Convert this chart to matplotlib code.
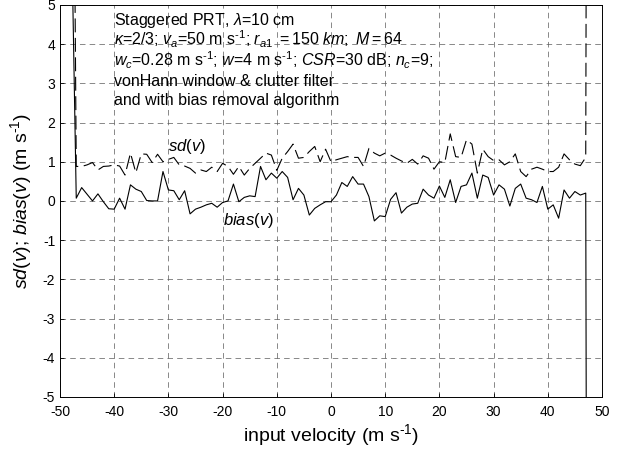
import numpy as np
import matplotlib
matplotlib.use("Agg")
from matplotlib import pyplot as plt

plt.rcParams['font.family'] = ['Liberation Sans', 'DejaVu Sans']
plt.rcParams['mathtext.fontset'] = 'custom'
plt.rcParams['mathtext.rm'] = 'Liberation Sans'
plt.rcParams['mathtext.it'] = 'Liberation Sans:italic'
plt.rcParams['mathtext.bf'] = 'Liberation Sans:bold'
plt.rcParams['lines.scale_dashes'] = False
plt.rcParams['axes.unicode_minus'] = False

# input velocity (m/s), one point per 1 m/s; the end points run off the chart
velocity = np.arange(-48, 49)

bias = [8.0,
        0.07, 0.34, 0.17, 0.0, 0.18, -0.02, -0.2, -0.21, 0.07, -0.21, 0.41, 0.3, 0.24, 0.01, 0.0,
        0.0, 0.75, 0.28, 0.26, 0.03, 0.26, -0.33, -0.21, -0.16, -0.1, -0.06, -0.16, -0.04, 0.0,
        0.43, -0.02, 0.09, 0.13, 0.11, 0.88, 0.54, 0.71, 0.58, 0.75, 0.6, 0.03, 0.32, 0.15,
        -0.36, -0.19, -0.1, -0.02,
        -0.02, 0.15, 0.47, 0.37, 0.62, 0.43, 0.43, 0.11, -0.51, -0.38, -0.4, 0.04, 0.21, -0.31,
        -0.16, -0.08, -0.06, 0.3, 0.15, 0.07, 0.38, 0.09, 0.54, -0.04, 0.37, 0.41, 0.71, 0.07,
        0.66, 0.6, 0.15, 0.41, 0.3, -0.13, 0.32, 0.43, 0.07, 0.03, -0.04, 0.37, -0.21, -0.1,
        -0.44, 0.28, 0.07, 0.24, 0.15, 0.2,
        -60.0]

sd = [20.0,
      0.88, 0.88, 0.92, 0.98, 0.79, 0.88, 0.89, 0.92, 0.89, 0.66, 1.22, 0.72, 1.2, 1.19, 0.98,
      1.19, 1.0, 1.06, 1.11, 0.92, 0.89, 0.83, 0.71, 0.79, 0.75, 0.86, 0.75, 0.96, 0.88,
      0.68, 0.88, 0.66, 0.83, 0.96, 1.09, 1.22, 1.17, 0.78, 1.09, 1.26, 1.45, 1.09, 1.11,
      1.26, 1.39, 1.0, 1.32,
      1.0, 1.05, 1.09, 1.13, 1.11, 1.11, 0.88, 1.34, 1.22, 1.15, 1.22, 1.17, 1.09, 1.02,
      0.96, 1.06, 0.94, 1.15, 1.09, 0.81, 1.0, 0.98, 1.71, 1.13, 1.11, 1.56, 1.45, 0.71,
      1.32, 1.13, 1.03, 1.05, 0.92, 1.0, 1.2, 0.75, 0.62, 0.81, 0.86, 0.81, 0.75, 0.75,
      0.86, 1.2, 1.05, 0.94, 0.9, 1.11,
      60.0]

inv_s = r's$^{\text{-1}}$'
info_lines = [r'Staggered PRT, $\lambda$=10 cm',
              r'$\kappa$=2/3; $v_a$=50 m ' + inv_s + r'; $r_{a1}$ $\mathit{=150\ km;\ M=64}$',
              r'$w_c$=0.28 m ' + inv_s + r'; $w$=4 m ' + inv_s + r'; $\mathit{CSR}$=30 dB; $n_c$=9;',
              'vonHann window & clutter filter',
              'and with bias removal algorithm']

fig = plt.figure(figsize=(6.21, 4.5), dpi=100)
ax = fig.add_axes([0.0966, 0.118, 0.8728, 0.871])

ax.plot(velocity, sd, color='k', lw=0.8, linestyle=(0, (10, 4)))
ax.plot(velocity, bias, color='k', lw=0.8)

ax.set_xlim(-50, 50)
ax.set_ylim(-5, 5)
ax.set_xticks(np.arange(-50, 51, 10))
ax.set_yticks(np.arange(-5, 6, 1))
ax.tick_params(direction='in', length=3, labelsize=10, width=0.6)
ax.tick_params(axis='x', pad=6)
ax.grid(True, color='0.35', linestyle=(0, (4, 3)), lw=0.5)
for s in ax.spines.values():
    s.set_linewidth(0.7)

ax.set_xlabel(r'input velocity (m ' + inv_s + ')', fontsize=14, labelpad=2)
ax.set_ylabel(r'$sd(v)$; $bias(v)$ (m ' + inv_s + ')', fontsize=14, labelpad=6)

baselines = [4.48, 3.96, 3.44, 2.93, 2.45]
for txt, yb in zip(info_lines, baselines):
    ax.text(-40, yb, txt, fontsize=11.5, va='baseline', ha='left')

ax.text(-30, 1.38, r'$sd(v)$', fontsize=12, va='center', ha='left')
ax.text(-20, -0.49, r'$bias(v)$', fontsize=12, va='center', ha='left')

fig.savefig('out.png', dpi=100)
